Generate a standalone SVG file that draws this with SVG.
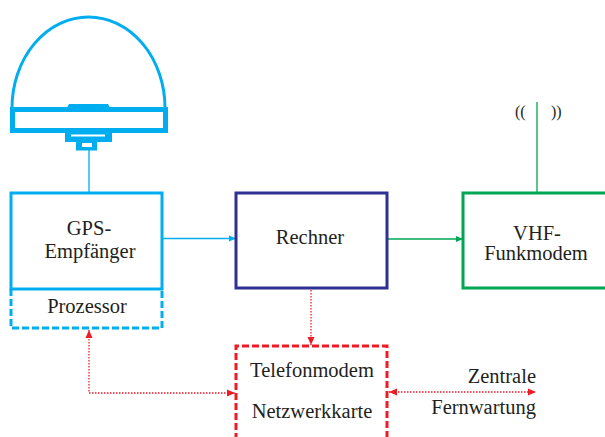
<svg xmlns="http://www.w3.org/2000/svg" width="605" height="437" viewBox="0 0 605 437">
  <defs>
    <style>
      text { font-family: "Liberation Serif", "DejaVu Serif", serif; font-size: 20.5px; fill: #231f20; }
      .mid { text-anchor: middle; }
      .end { text-anchor: end; }
      .ant { font-size: 16px; }
      .gps { fill: none; stroke: #00aeef; stroke-width: 3; }
      .gpsfill { fill: #00aeef; stroke: none; }
      .proc { fill: none; stroke: #00aeef; stroke-width: 3; stroke-dasharray: 7 3; }
      .cpu { fill: none; stroke: #2e3192; stroke-width: 3; }
      .vhf { fill: none; stroke: #00a651; stroke-width: 3; }
      .tel { fill: none; stroke: #ed1c24; stroke-width: 3; stroke-dasharray: 7 3; }
      .link-blue { stroke: #00aeef; stroke-width: 1.3; fill: none; }
      .link-green { stroke: #00a651; stroke-width: 1.3; fill: none; }
      .link-red { stroke: #ed1c24; stroke-width: 1.3; fill: none; stroke-dasharray: 1.5 1.5; }
    </style>
    <marker id="arrBlue" markerWidth="8" markerHeight="8" refX="7" refY="4" orient="auto" markerUnits="userSpaceOnUse">
      <path d="M0,1 L7,4 L0,7 Z" fill="#00aeef"/>
    </marker>
    <marker id="arrGreen" markerWidth="8" markerHeight="8" refX="7" refY="4" orient="auto" markerUnits="userSpaceOnUse">
      <path d="M0,1 L7,4 L0,7 Z" fill="#00a651"/>
    </marker>
    <marker id="arrRed" markerWidth="9" markerHeight="9" refX="8" refY="4.5" orient="auto-start-reverse" markerUnits="userSpaceOnUse">
      <path d="M0,1 L8,4.5 L0,8 Z" fill="#ed1c24"/>
    </marker>
  </defs>

  <!-- GPS antenna dome -->
  <g id="antenna">
    <path class="gps" d="M12,108 A76.5,91 0 0 1 165,108"/>
    <path class="gpsfill" d="M69,104 L108,104 L110,107.5 L67,107.5 Z"/>
    <rect x="12.5" y="109.5" width="153" height="21" fill="none" stroke="#00aeef" stroke-width="5"/>
    <rect x="65" y="133" width="47" height="9" class="gpsfill"/>
    <rect x="71" y="134.5" width="34" height="2" fill="#fff"/>
    <rect x="76" y="142" width="21" height="8.5" class="gpsfill"/>
    <rect x="82" y="143" width="10" height="4" fill="#fff"/>
  </g>

  <!-- Connectors -->
  <g id="connectors">
    <line class="link-blue" x1="89" y1="150" x2="89" y2="193"/>
    <line class="link-blue" x1="162" y1="238.5" x2="236" y2="238.5" marker-end="url(#arrBlue)"/>
    <line class="link-green" x1="387" y1="239" x2="463" y2="239" marker-end="url(#arrGreen)"/>
    <line class="link-green" x1="537" y1="102" x2="537" y2="193"/>
    <line class="link-red" x1="311" y1="290" x2="311" y2="345" marker-end="url(#arrRed)"/>
    <polyline class="link-red" points="89,330 89,393 235,393" marker-start="url(#arrRed)" marker-end="url(#arrRed)"/>
    <line class="link-red" x1="389" y1="392" x2="536" y2="392" marker-start="url(#arrRed)" marker-end="url(#arrRed)"/>
  </g>

  <!-- GPS receiver with processor -->
  <g id="gps-empfaenger">
    <rect class="gps" x="11" y="193" width="151" height="96"/>
    <text class="mid" x="89" y="235">GPS-</text>
    <text class="mid" x="90" y="258">Empfänger</text>
  </g>
  <g id="prozessor">
    <path class="proc" d="M11,289 L11,328 L162,328 L162,289"/>
    <text class="mid" x="87" y="313">Prozessor</text>
  </g>

  <!-- Computer -->
  <g id="rechner">
    <rect class="cpu" x="236" y="193" width="151" height="95"/>
    <text class="mid" x="310" y="244">Rechner</text>
  </g>

  <!-- VHF radio modem -->
  <g id="vhf-funkmodem">
    <rect class="vhf" x="463" y="193" width="145" height="95"/>
    <text class="mid" x="537" y="240">VHF-</text>
    <text class="mid" x="536" y="260">Funkmodem</text>
    <text class="ant" x="515" y="117">((</text>
    <text class="ant" x="551" y="117">))</text>
  </g>

  <!-- Telephone modem / network card -->
  <g id="telefonmodem">
    <path class="tel" d="M236,440 L236,346 L387,346 L387,440"/>
    <text class="mid" x="312" y="377">Telefonmodem</text>
    <text class="mid" x="312" y="418">Netzwerkkarte</text>
  </g>

  <!-- Remote maintenance centre -->
  <g id="zentrale">
    <text class="end" x="536" y="383">Zentrale</text>
    <text class="end" x="536" y="414">Fernwartung</text>
  </g>
</svg>
